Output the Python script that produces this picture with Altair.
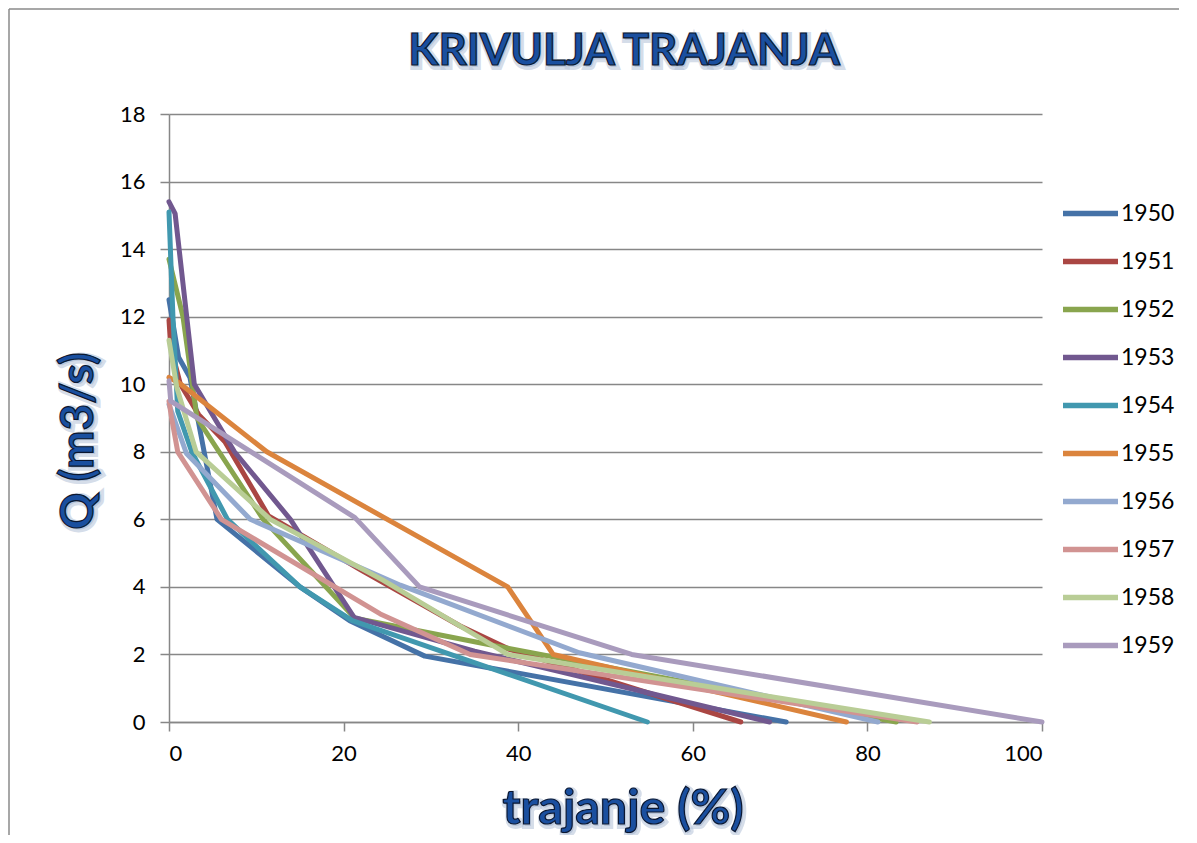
import altair as alt
import pandas as pd

YEARS = ["1950", "1951", "1952", "1953", "1954", "1955", "1956", "1957", "1958", "1959"]
COLORS = ["#4572A7", "#AA4643", "#89A54E", "#71588F", "#4198AF",
          "#DB843D", "#93A9CF", "#D19392", "#B9CD96", "#A99BBD"]

x_1950 = [0, 1.1, 2.4, 5.5, 15.0, 20.7, 29.3, 70.7]
q_1950 = [12.5, 10.8, 10.2, 6.0, 4.0, 3.0, 1.95, 0]
x_1951 = [0, 0.2, 1.3, 3.4, 6.4, 11.4, 22.0, 33.3, 39.0, 65.5]
q_1951 = [11.9, 11.1, 10.0, 9.1, 8.3, 6.1, 4.5, 2.85, 2.15, 0]
x_1952 = [0, 1.6, 3.2, 10.8, 21.3, 38.5, 83.3]
q_1952 = [13.7, 12.0, 9.0, 6.0, 3.07, 2.2, 0]
x_1953 = [0, 0.7, 2.9, 7.5, 13.9, 21.2, 35.0, 68.8]
q_1953 = [15.4, 15.05, 10.0, 8.0, 6.0, 3.1, 2.1, 0]
x_1954 = [0, 0.45, 1.0, 2.6, 6.7, 15.0, 21.0, 54.8]
q_1954 = [15.1, 12.0, 9.2, 8.0, 6.0, 4.0, 3.0, 0]
x_1955 = [0, 1.1, 11.2, 38.8, 44.0, 77.6]
q_1955 = [10.2, 10.05, 8.0, 4.0, 2.0, 0]
x_1956 = [0, 2.0, 9.3, 26.5, 47.0, 81.2]
q_1956 = [9.4, 7.95, 6.0, 4.05, 2.05, 0]
x_1957 = [0, 0.3, 1.0, 6.0, 24.2, 34.5, 85.7]
q_1957 = [9.5, 9.0, 8.0, 6.0, 3.2, 2.0, 0]
x_1958 = [0, 0.9, 3.1, 11.6, 24.5, 38.8, 87.1]
q_1958 = [11.3, 9.9, 8.0, 6.0, 4.2, 2.0, 0]
x_1959 = [0, 0.2, 21.3, 28.7, 53.0, 100.0]
q_1959 = [10.1, 9.5, 6.05, 4.0, 2.0, 0]

X_TICKS = [0, 20, 40, 60, 80, 100]
Y_TICKS = [0, 2, 4, 6, 8, 10, 12, 14, 16, 18]

TITLE = "KRIVULJA TRAJANJA"
X_TITLE = "trajanje (%)"
Y_TITLE = "Q (m3/s)"

series = {
    "1950": (x_1950, q_1950), "1951": (x_1951, q_1951), "1952": (x_1952, q_1952),
    "1953": (x_1953, q_1953), "1954": (x_1954, q_1954), "1955": (x_1955, q_1955),
    "1956": (x_1956, q_1956), "1957": (x_1957, q_1957), "1958": (x_1958, q_1958),
    "1959": (x_1959, q_1959),
}
rows = []
for yr in YEARS:
    xs, qs = series[yr]
    for i, (xv, qv) in enumerate(zip(xs, qs)):
        rows.append({"year": yr, "x": xv, "q": qv, "i": i})
df = pd.DataFrame(rows)

W, H = 873, 608
FONT = "Lato"
GRID = "#878787"

lines = alt.Chart(df).mark_line(strokeWidth=5, strokeCap="round", strokeJoin="round").encode(
    x=alt.X("x:Q", scale=alt.Scale(domain=[0, 100], nice=False),
            axis=alt.Axis(values=X_TICKS, grid=False, domainColor=GRID, domainWidth=1.5,
                          tickColor=GRID, tickWidth=1.5, tickSize=9, labelPadding=12,
                          labelFontSize=22, labelFont=FONT, labelColor="#000000"),
            title=None),
    y=alt.Y("q:Q", scale=alt.Scale(domain=[0, 18], nice=False),
            axis=alt.Axis(values=Y_TICKS, grid=True, gridColor=GRID, gridWidth=1.5,
                          domainColor=GRID, domainWidth=1.5, tickColor=GRID, tickWidth=1.5,
                          tickSize=9, labelPadding=15, labelFontSize=22, labelFont=FONT,
                          labelColor="#000000"),
            title=None),
    color=alt.Color("year:N", scale=alt.Scale(domain=YEARS, range=COLORS),
                    legend=alt.Legend(title=None, orient="none", legendX=891, legendY=69,
                                      symbolType="stroke", symbolSize=3025,
                                      symbolStrokeWidth=5.5, labelFontSize=23,
                                      labelFont=FONT, labelColor="#000000",
                                      labelOffset=0, rowPadding=5, padding=0)),
    order="i:Q",
)

one = pd.DataFrame({"t": [TITLE], "xt": [X_TITLE], "yt": [Y_TITLE]})

def glow_text(field, x, y, size, angle=0):
    base = dict(font=FONT, fontWeight="bold", fontSize=size, align="center", baseline="middle")
    if angle:
        base["angle"] = angle
    halo = alt.Chart(one).mark_text(stroke="#b9c6da", strokeWidth=6, strokeOpacity=0.6,
                                    fill="#b9c6da", **base).encode(
        x=alt.value(x + 1.5), y=alt.value(y + 1.5), text=f"{field}:N")
    main = alt.Chart(one).mark_text(fill="#1a4f9f", stroke="#0b1730", strokeWidth=1.2,
                                    **base).encode(
        x=alt.value(x), y=alt.value(y), text=f"{field}:N")
    return [halo, main]

frame_left = alt.Chart(one).mark_rule(color="#8a8a8a", strokeWidth=1.5).encode(
    x=alt.value(-160), y=alt.value(-105), y2=alt.value(725))
frame_top = alt.Chart(one).mark_rule(color="#8a8a8a", strokeWidth=1.5).encode(
    x=alt.value(-160), x2=alt.value(1010), y=alt.value(-105))

layers = [frame_left, frame_top, lines]
layers += glow_text("t", 455, -62, 44)
layers += glow_text("xt", 454, 695, 48.5)
layers += glow_text("yt", -90, 327, 46, angle=270)

chart = alt.layer(*layers).properties(
    width=W, height=H,
    autosize=alt.AutoSizeParams(type="none"),
    padding={"left": 161, "top": 106, "right": 140, "bottom": 113},
).configure_view(strokeWidth=0)

chart.save("out.html", embed_options={"renderer": "svg", "actions": False})
